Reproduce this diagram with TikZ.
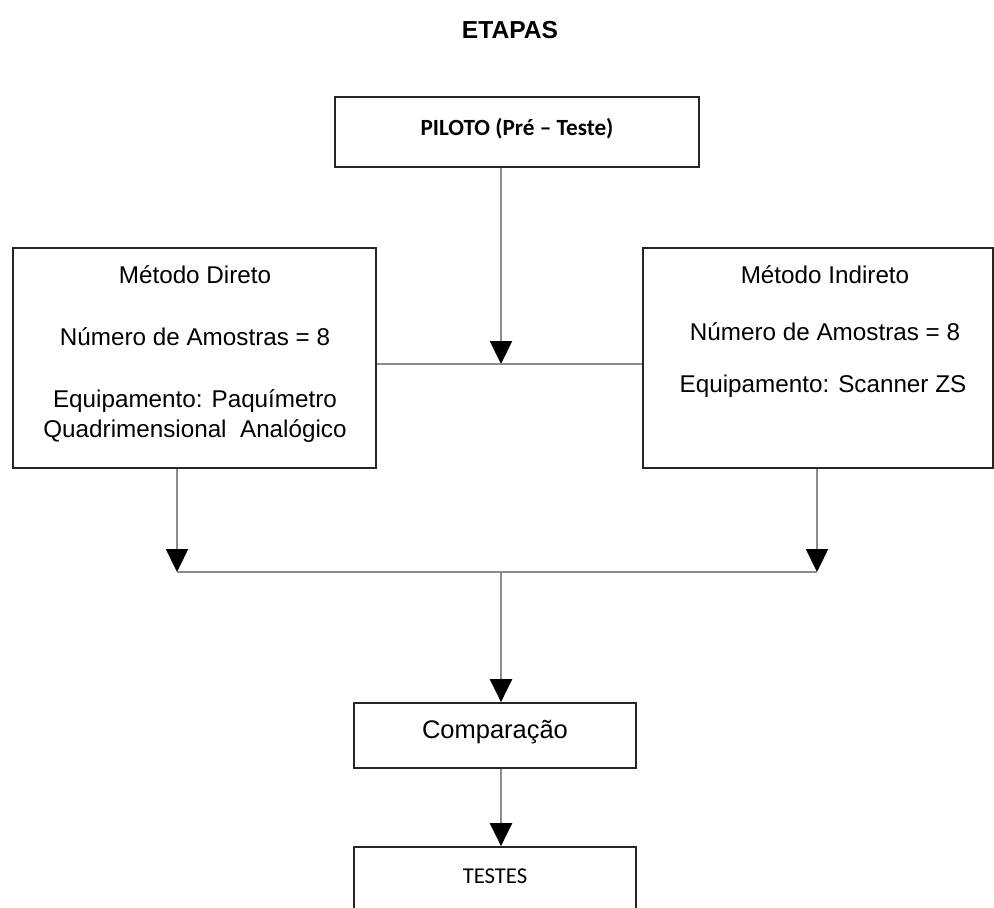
\documentclass[tikz,border=0pt]{standalone}
\usepackage{fontspec}
\setmainfont{Liberation Sans}
\newfontfamily\calibri{Carlito}
\usetikzlibrary{arrows.meta}

\begin{document}
\begin{tikzpicture}[x=0.02cm, y=-0.02cm,
  box/.style={draw=black!85, line width=1pt, inner sep=0pt},
  link/.style={draw=black!45, line width=1.3pt},
  tip/.style={link, -{Triangle[length=0.46cm, width=0.44cm, color=black]}},
  txt/.style={anchor=base, inner sep=0pt, font=\fontsize{13.8}{16}\selectfont}]
\useasboundingbox (0,0) rectangle (994,907);
\node[txt, font=\fontsize{14}{16}\selectfont\bfseries] (titulo) at (510,38) {ETAPAS};
\node[box, minimum width=7.28cm, minimum height=1.40cm] (piloto) at (517,132) {};
\node[txt, font=\calibri\fontsize{13.2}{15}\selectfont\bfseries] (pilototxt) at (517,135) {PILOTO (Pré – Teste)};
\node[box, minimum width=7.26cm, minimum height=4.40cm] (direto) at (194.5,358) {};
\node[txt] (direto1) at (195,283) {Método Direto};
\node[txt] (direto2) at (195,345) {Número de Amostras = 8};
\node[txt] (direto3) at (195,407) {Equipamento: Paquímetro};
\node[txt] (direto4) at (195,437) {Quadrimensional~ Analógico};
\node[box, minimum width=7.00cm, minimum height=4.40cm] (indireto) at (818,358) {};
\node[txt] (indireto1) at (825,283) {Método Indireto};
\node[txt] (indireto2) at (825,340) {Número de Amostras = 8};
\node[txt] (indireto3) at (823,392) {Equipamento: Scanner ZS};
\node[box, minimum width=5.64cm, minimum height=1.30cm] (comp) at (495,735.5) {};
\node[txt, font=\fontsize{14.5}{16}\selectfont] (comptxt) at (495,738) {Comparação};
\node[box, minimum width=5.64cm, minimum height=1.66cm] (testes) at (495,888.5) {};
\node[txt, font=\calibri\fontsize{12.9}{15}\selectfont] (testestxt) at (495,883) {TESTES};
\coordinate (juncao) at (501,364);
\coordinate (esq) at (177,572);
\coordinate (dir) at (817,572);
\coordinate (meio) at (501,572);
\draw[tip] (piloto.south -| juncao) -- (juncao);
\draw[link] (direto.east |- juncao) -- (indireto.west |- juncao);
\draw[tip] (direto.south -| esq) -- (esq);
\draw[tip] (indireto.south -| dir) -- (dir);
\draw[link] (esq) -- (dir);
\draw[tip] (meio) -- (comp.north -| meio);
\draw[tip] (comp.south -| meio) -- (testes.north -| meio);
\end{tikzpicture}
\end{document}
